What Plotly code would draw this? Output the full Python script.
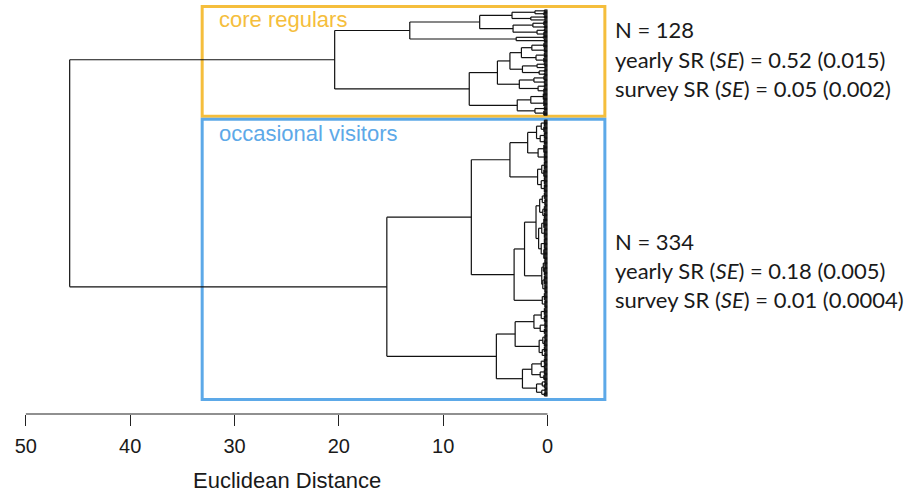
import plotly.graph_objects as go

# ---------------- data ----------------
# terminal leaf groups, in dendrogram order (top to bottom)
group_name = ["g%d" % i for i in range(1, 67)]
group_size = [3, 4, 4, 3, 5, 4, 4, 5, 3, 5,
              6, 6, 6, 6, 4, 4, 4, 4, 5, 5,
              5, 6, 8, 8, 5, 6,
              8, 7, 8, 7, 10, 10, 10, 9, 9, 10,
              8, 8, 8, 7, 12, 12, 13, 12, 10, 10,
              11, 10, 9, 9, 9, 8, 8, 7, 7, 8,
              7, 7, 7, 6, 7, 6, 5, 5, 5, 5]
group_height = [0.30, 0.35, 0.30, 0.25, 0.35, 0.30, 0.30, 0.35, 0.40, 0.30,
                0.35, 0.30, 0.30, 0.35, 0.30, 0.25, 0.30, 0.30, 0.35, 0.30,
                0.30, 0.35, 0.40, 0.35, 0.30, 0.35,
                0.30, 0.35, 0.30, 0.30, 0.35, 0.30, 0.30, 0.35, 0.30, 0.30,
                0.30, 0.25, 0.30, 0.30, 0.35, 0.30, 0.30, 0.35, 0.25, 0.30,
                0.30, 0.25, 0.30, 0.25, 0.30, 0.30, 0.25, 0.30, 0.25, 0.30,
                0.30, 0.25, 0.30, 0.30, 0.30, 0.35, 0.25, 0.30, 0.25, 0.30]

# merges: node name, upper child, lower child, Euclidean distance
merge_name = ["a1", "a2", "A1a", "a3", "a4", "A1b", "A1", "A2", "A",
              "b1", "b2", "B1a1", "b3", "b4", "B1a2", "B1a", "b5", "b6", "B1b", "B1",
              "b7", "b8", "B2", "B", "core",
              "c1", "c2", "O1a1u", "O1a1l", "O1a1", "c3", "c4", "O1a2", "O1a",
              "c5", "c6", "O1b1uu", "c7", "c8", "O1b1ul", "O1b1u", "c9", "c10", "O1b1l",
              "O1b1", "O1b2", "O1b", "O1",
              "c11", "c12", "O2a1", "c13", "c14", "O2a2", "O2a",
              "c15", "c16", "O2b1", "c17", "c18", "O2b2", "O2b", "O2", "occ", "root"]
merge_left = ["g1", "g3", "a1", "g5", "g7", "a3", "A1a", "g9", "A1",
              "g11", "g13", "b1", "g15", "g17", "b3", "B1a1", "g19", "g21", "b5", "B1a",
              "g23", "g25", "b7", "B1", "A",
              "g27", "g29", "c1", "g31", "O1a1u", "g33", "g35", "c3", "O1a1",
              "g37", "g39", "c5", "g41", "g43", "c7", "O1b1uu", "g45", "g47", "c9",
              "O1b1u", "g49", "O1b1", "O1a",
              "g51", "g53", "c11", "g55", "g57", "c13", "O2a1",
              "g59", "g61", "c15", "g63", "g65", "c17", "O2b1", "O2a", "O1", "core"]
merge_right = ["g2", "g4", "a2", "g6", "g8", "a4", "A1b", "g10", "A2",
               "g12", "g14", "b2", "g16", "g18", "b4", "B1a2", "g20", "g22", "b6", "B1b",
               "g24", "g26", "b8", "B2", "B",
               "g28", "g30", "c2", "g32", "O1a1l", "g34", "g36", "c4", "O1a2",
               "g38", "g40", "c6", "g42", "g44", "c8", "O1b1ul", "g46", "g48", "c10",
               "O1b1l", "g50", "O1b2", "O1b",
               "g52", "g54", "c12", "g56", "g58", "c14", "O2a2",
               "g60", "g62", "c16", "g64", "g66", "c18", "O2b2", "O2b", "O2", "occ"]
merge_height = [1.2, 1.6, 3.4, 1.4, 1.0, 3.3, 6.5, 3.0, 13.2,
                1.5, 1.1, 2.5, 1.0, 0.8, 2.4, 3.6, 1.3, 0.9, 2.7, 4.8,
                1.6, 1.2, 2.9, 7.5, 20.4,
                0.6, 0.7, 1.05, 0.9, 1.9, 0.55, 0.6, 0.95, 3.6,
                0.5, 0.45, 0.75, 0.55, 0.6, 0.85, 1.1, 0.4, 0.45, 0.55,
                2.2, 0.5, 3.2, 7.3,
                0.6, 0.7, 1.3, 0.45, 0.5, 0.8, 3.1,
                0.6, 0.7, 1.5, 0.5, 0.55, 1.05, 2.4, 4.9, 15.4, 45.8]

cluster_node = ["core", "occ"]
cluster_label = ["core regulars", "occasional visitors"]
cluster_color = ["#F5BE3C", "#5DA9E8"]
cluster_text = [["N = 128", "yearly SR (<i>SE</i>) = 0.52 (0.015)", "survey SR (<i>SE</i>) = 0.05 (0.002)"],
                ["N = 334", "yearly SR (<i>SE</i>) = 0.18 (0.005)", "survey SR (<i>SE</i>) = 0.01 (0.0004)"]]
tick_vals = [50, 40, 30, 20, 10, 0]
tick_text = ["50", "40", "30", "20", "10", "0"]
axis_title = "Euclidean Distance"

# ---------------- build dendrogram geometry ----------------
children = {n: (l, r) for n, l, r in zip(merge_name, merge_left, merge_right)}
height = dict(zip(merge_name, merge_height))
height.update(zip(group_name, group_height))
size = dict(zip(group_name, group_size))

CLUSTER_GAP = 5
pos, span, leaves_of = {}, {}, {}
counter = [0]


def place(node):
    if node in cluster_node[1:]:
        counter[0] += CLUSTER_GAP
    if node in size:
        lv = [counter[0] + i for i in range(size[node])]
        counter[0] += size[node]
        leaves_of[node] = lv
        pos[node] = (lv[0] + lv[-1]) / 2.0
        span[node] = (lv[0], lv[-1])
    else:
        l, r = children[node]
        place(l)
        place(r)
        pos[node] = (pos[l] + pos[r]) / 2.0
        span[node] = (span[l][0], span[r][1])


place("root")

xs, ys = [], []


def seg(x0, y0, x1, y1):
    xs.extend([x0, x1, None])
    ys.extend([y0, y1, None])


for g in group_name:
    h = height[g]
    lv = leaves_of[g]
    seg(h, lv[0], h, lv[-1])
    for y in lv:
        seg(0, y, h, y)

for n in merge_name:
    l, r = children[n]
    h = height[n]
    seg(h, pos[l], h, pos[r])
    seg(h, pos[l], height[l], pos[l])
    seg(h, pos[r], height[r], pos[r])

# axis ranges (y is leaf order, top to bottom)
X_RANGE = [52.0, -5.8]
Y_RANGE = [487.75, -7.24]


def x_paper(d):
    return (X_RANGE[0] - d) / (X_RANGE[0] - X_RANGE[1])


def y_paper(u):
    return (Y_RANGE[0] - u) / (Y_RANGE[0] - Y_RANGE[1])


fig = go.Figure()
fig.add_trace(go.Scatter(x=xs, y=ys, mode="lines",
                         line=dict(color="#111111", width=1.2),
                         hoverinfo="skip", showlegend=False))

# cluster rectangles (cut between the two highest merges)
hs = sorted(merge_height, reverse=True)
cut = (hs[0] + hs[1]) / 2.0
BOX_RIGHT = -5.5
PAD_OUT, PAD_IN = 4.2, 1.2
for i, node in enumerate(cluster_node):
    y0 = span[node][0] - (PAD_OUT if i == 0 else PAD_IN)
    y1 = span[node][1] + (PAD_OUT if i == len(cluster_node) - 1 else PAD_IN)
    fig.add_shape(type="rect", xref="paper", yref="paper",
                  x0=x_paper(cut), x1=x_paper(BOX_RIGHT),
                  y0=y_paper(y0), y1=y_paper(y1),
                  line=dict(color=cluster_color[i], width=3), layer="below")

# cluster labels
label_y = [12, 149.5]
for i, lab in enumerate(cluster_label):
    fig.add_annotation(x=cut - 1.4, y=label_y[i], xref="x", yref="y", text=lab,
                       showarrow=False, xanchor="left", yanchor="middle",
                       font=dict(family="Liberation Sans, Arial", size=22, color=cluster_color[i]))

# stats text on the right
text_y = [[24.1, 59.2, 94.2], [280, 315, 349]]
for i, lines in enumerate(cluster_text):
    for j, t in enumerate(lines):
        fig.add_annotation(x=1.0083, y=text_y[i][j], xref="paper", yref="y", text=t,
                           showarrow=False, xanchor="left", yanchor="middle",
                           font=dict(family="Lato, Open Sans", size=22, color="#1a1a1a"))

# axis line from 50 to 0
fig.add_shape(type="line", xref="x", yref="paper", x0=tick_vals[0], x1=tick_vals[-1], y0=0, y1=0,
              line=dict(color="#222222", width=1.2))
fig.add_annotation(x=(tick_vals[0] + tick_vals[-1]) / 2.0, y=-0.161, xref="x", yref="paper",
                   text=axis_title, showarrow=False, yanchor="middle",
                   font=dict(family="Liberation Sans, Arial", size=22, color="#1a1a1a"))

fig.update_xaxes(range=X_RANGE, showgrid=False, zeroline=False, showline=False,
                 tickmode="array", tickvals=tick_vals, ticktext=tick_text,
                 ticks="outside", ticklen=11, tickwidth=1.2, tickcolor="#222222",
                 ticklabelstandoff=3,
                 tickfont=dict(family="Liberation Sans, Arial", size=20, color="#1a1a1a"))
fig.update_yaxes(range=Y_RANGE, showgrid=False, zeroline=False, showline=False,
                 showticklabels=False, ticks="")
fig.update_layout(width=917, height=493, margin=dict(l=5, r=309, t=4, b=79),
                  plot_bgcolor="white", paper_bgcolor="white", showlegend=False)

# remove the browser's default page margin so the figure sits at the page origin
fig.write_html("out.html", config={"displayModeBar": False},
               post_script="document.body.style.margin='0px';")
